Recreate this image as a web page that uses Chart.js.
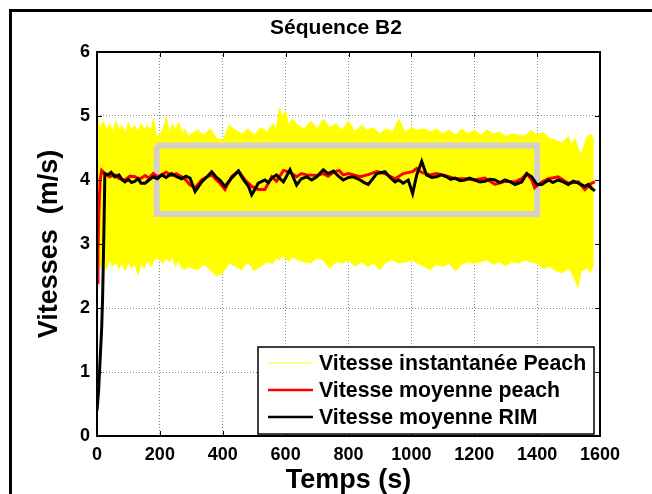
<!DOCTYPE html>
<html>
<head>
<meta charset="utf-8">
<script src="https://cdn.jsdelivr.net/npm/chart.js@4/dist/chart.umd.min.js"></script>
<style>
  html, body { margin: 0; padding: 0; background: #fff; }
  #wrap { position: relative; width: 652px; height: 494px; }
</style>
</head>
<body>
<div id="wrap"><canvas id="myChart" width="652" height="494"></canvas></div>
<script>
// titres et légende
const chartTitle = 'Séquence B2';
const xTitle = 'Temps (s)';
const yTitle = 'Vitesses  (m/s)';
const legendLabels = ['Vitesse instantanée Peach', 'Vitesse moyenne peach', 'Vitesse moyenne RIM'];

// axes
const xTicks = [0, 200, 400, 600, 800, 1000, 1200, 1400, 1600];
const yTicks = [0, 1, 2, 3, 4, 5, 6];

// vitesse instantanée Peach : enveloppe haute / basse du signal
const instT = [0, 2, 10, 20, 30, 40, 50, 60, 70, 80, 90, 100, 110, 120, 130, 140, 150, 160, 170, 180, 190, 200, 210, 220, 230, 240, 250, 260, 270, 280, 290, 300,
  320, 340, 360, 380, 400, 420, 440, 460, 480, 500, 520, 540, 560, 570, 580, 590, 600, 610, 620, 640, 660, 680, 700, 720, 740, 760, 780,
  800, 820, 840, 860, 880, 900, 920, 940, 960, 980, 1000, 1020, 1040, 1060, 1080, 1100, 1120, 1140, 1160, 1180,
  1200, 1220, 1240, 1260, 1280, 1300, 1320, 1340, 1360, 1380, 1400, 1420, 1440, 1460, 1480, 1500, 1510, 1520, 1530, 1540, 1560, 1570, 1580];
const instHaut = [4.95, 4.98, 4.80, 4.92, 4.78, 4.88, 4.75, 4.92, 4.80, 4.85, 4.72, 4.90, 4.78, 4.85, 4.75, 4.88, 4.80, 4.85, 4.78, 4.95, 4.68, 4.72, 4.80, 4.98, 4.75, 4.88, 4.78, 4.90, 4.72, 4.80, 4.68, 4.72,
  4.78, 4.70, 4.80, 4.65, 4.62, 4.85, 4.78, 4.72, 4.80, 4.70, 4.82, 4.75, 4.88, 4.80, 5.12, 5.00, 5.08, 4.85, 4.95, 4.85, 4.80, 4.92, 4.80, 4.95, 4.82, 4.88, 4.78,
  4.92, 4.75, 4.85, 4.78, 4.82, 4.72, 4.80, 4.75, 4.95, 4.75, 4.82, 4.78, 4.80, 4.75, 4.80, 4.72, 4.78, 4.70, 4.80, 4.72, 4.78,
  4.70, 4.78, 4.72, 4.75, 4.68, 4.72, 4.70, 4.68, 4.78, 4.70, 4.75, 4.65, 4.62, 4.58, 4.68, 4.55, 4.65, 4.50, 4.40, 4.68, 4.72, 4.62, 4.78];
const instBas = [0.10, 2.70, 2.62, 2.70, 2.60, 2.75, 2.65, 2.72, 2.62, 2.70, 2.58, 2.72, 2.62, 2.70, 2.52, 2.68, 2.62, 2.75, 2.65, 2.72, 2.78, 2.75, 2.70, 2.78, 2.72, 2.80, 2.65, 2.75, 2.62, 2.60, 2.66, 2.62,
  2.60, 2.68, 2.60, 2.50, 2.55, 2.70, 2.65, 2.60, 2.72, 2.58, 2.65, 2.72, 2.70, 2.78, 2.75, 2.82, 2.78, 2.72, 2.80, 2.75, 2.72, 2.70, 2.78, 2.75, 2.62, 2.72, 2.70,
  2.75, 2.65, 2.72, 2.65, 2.70, 2.60, 2.72, 2.75, 2.70, 2.72, 2.75, 2.70, 2.65, 2.60, 2.68, 2.65, 2.70, 2.58, 2.68, 2.72,
  2.70, 2.72, 2.75, 2.68, 2.72, 2.66, 2.72, 2.70, 2.75, 2.72, 2.70, 2.62, 2.65, 2.58, 2.55, 2.62, 2.55, 2.45, 2.32, 2.58, 2.62, 2.55, 2.70];

// vitesse moyenne peach
const peachT = [0, 3, 6, 10, 15, 25, 40, 57, 70, 89, 105, 121, 135, 153, 165, 179, 192, 206, 220, 237, 252, 269, 283, 296, 312, 333, 350, 365, 380, 391, 407, 428, 450, 471,
  492, 513, 534, 556, 571, 593, 614, 635, 650, 667, 699, 720, 735, 752, 770, 783, 800, 837, 860, 890, 916, 948, 974, 1004, 1017, 1033,
  1060, 1080, 1107, 1139, 1170, 1202, 1234, 1266, 1298, 1330, 1351, 1367, 1383, 1392, 1415, 1436, 1467, 1499, 1531, 1552, 1573, 1584];
const peachV = [2.40, 2.90, 3.50, 4.00, 4.15, 4.10, 4.05, 4.08, 4.02, 4.00, 4.06, 4.05, 4.01, 4.07, 4.03, 4.10, 4.05, 4.08, 4.12, 4.07, 4.10, 4.05, 4.00, 3.92, 3.88, 4.00, 4.05, 4.08, 4.00, 3.95, 3.85, 4.05, 4.14, 4.00,
  3.90, 3.85, 3.85, 4.05, 3.98, 4.15, 4.12, 4.05, 4.10, 4.08, 4.07, 4.10, 4.06, 4.12, 4.15, 4.08, 4.10, 4.05, 4.08, 4.13, 4.10, 4.02, 4.10, 4.13, 4.18, 4.12,
  4.08, 4.10, 4.07, 4.02, 4.02, 4.00, 4.03, 3.93, 3.98, 3.97, 4.02, 4.10, 4.00, 3.88, 3.97, 4.02, 4.05, 3.95, 3.97, 3.85, 3.95, 3.97];

// vitesse moyenne RIM
const rimT = [0, 5, 10, 15, 18, 22, 25, 35, 45, 57, 70, 80, 89, 100, 110, 121, 130, 140, 153, 165, 179, 192, 206, 220, 237, 250, 269, 283, 296, 312, 333, 350, 365, 380, 391, 407, 428, 450, 460, 471,
  482, 492, 503, 513, 534, 545, 556, 571, 582, 593, 614, 635, 650, 667, 683, 699, 720, 735, 752, 768, 783, 800, 815, 837, 850, 863, 890, 916, 930, 948, 960, 974, 990, 1004, 1017, 1033,
  1048, 1065, 1080, 1095, 1112, 1125, 1139, 1155, 1170, 1185, 1202, 1218, 1234, 1250, 1266, 1282, 1298, 1315, 1330, 1351, 1367, 1383, 1399, 1415, 1436, 1450, 1467, 1483, 1499, 1515, 1531, 1552, 1563, 1573, 1584];
const rimV = [0.40, 0.70, 1.20, 1.70, 2.20, 3.20, 4.10, 4.08, 4.12, 4.05, 4.08, 4.00, 3.97, 4.01, 3.96, 3.98, 4.02, 3.95, 3.95, 4.00, 4.05, 4.02, 4.08, 4.04, 4.10, 4.06, 4.02, 4.06, 4.03, 3.82, 3.97, 4.05, 4.13, 4.04, 4.00, 3.90, 4.03, 4.14, 4.05, 3.97,
  3.90, 3.77, 3.86, 3.95, 4.00, 3.96, 4.03, 4.08, 4.02, 3.97, 4.16, 3.92, 4.02, 4.05, 4.00, 4.05, 4.16, 4.10, 4.14, 4.06, 4.00, 4.04, 4.05, 4.00, 3.96, 3.93, 4.10, 4.13, 4.05, 3.97, 4.00, 3.95, 4.00, 3.79, 4.08, 4.29,
  4.08, 4.04, 4.05, 4.08, 4.05, 4.01, 4.03, 3.99, 4.00, 4.03, 4.00, 3.97, 3.98, 4.01, 4.00, 3.96, 4.00, 3.97, 3.93, 3.97, 4.10, 4.05, 3.93, 3.93, 4.00, 3.96, 4.00, 3.97, 3.93, 3.98, 3.95, 3.90, 3.93, 3.87, 3.83];

// cadre gris (zone stationnaire)
const cadreT = [190, 1400, 1400, 190, 190];
const cadreV = [4.54, 4.54, 3.47, 3.47, 4.54];

const FONT = "'Liberation Sans', Arial, sans-serif";

function pts(xs, ys) {
  return xs.map(function(x, i) { return { x: x, y: ys[i] }; });
}

// dessin du cadre, des titres et de la légende
const decorPlugin = {
  id: 'decor',
  afterDraw: function(chart) {
    const ctx = chart.ctx;
    const a = chart.chartArea;
    const xs = chart.scales.x, ys = chart.scales.y;
    ctx.save();

    // cadre extérieur de la figure
    ctx.strokeStyle = '#000';
    ctx.lineWidth = 3;
    ctx.beginPath();
    ctx.moveTo(10.5, 494);
    ctx.lineTo(10.5, 10.5);
    ctx.lineTo(652, 10.5);
    ctx.stroke();

    // boîte des axes + petites graduations intérieures
    ctx.lineWidth = 2;
    ctx.strokeRect(a.left, a.top, a.right - a.left, a.bottom - a.top);
    ctx.lineWidth = 1;
    ctx.beginPath();
    xTicks.forEach(function(v) {
      const px = Math.round(xs.getPixelForValue(v)) + 0.5;
      ctx.moveTo(px, a.bottom); ctx.lineTo(px, a.bottom - 5);
      ctx.moveTo(px, a.top); ctx.lineTo(px, a.top + 5);
    });
    yTicks.forEach(function(v) {
      const py = Math.round(ys.getPixelForValue(v)) + 0.5;
      ctx.moveTo(a.left, py); ctx.lineTo(a.left + 5, py);
      ctx.moveTo(a.right, py); ctx.lineTo(a.right - 5, py);
    });
    ctx.stroke();

    // titres
    ctx.fillStyle = '#000';
    ctx.textAlign = 'center';
    ctx.textBaseline = 'alphabetic';
    ctx.font = 'bold 21px ' + FONT;
    ctx.fillText(chartTitle, 336, 34);
    ctx.font = 'bold 27px ' + FONT;
    ctx.fillText(xTitle, (a.left + a.right) / 2, 488);
    ctx.save();
    ctx.translate(57, (a.top + a.bottom) / 2);
    ctx.rotate(-Math.PI / 2);
    ctx.fillText(yTitle, 0, 0);
    ctx.restore();

    // légende
    const lx = 258, ly = 347, lw = 336, lh = 87;
    ctx.fillStyle = '#fff';
    ctx.fillRect(lx, ly, lw, lh);
    ctx.strokeStyle = '#000';
    ctx.lineWidth = 1.5;
    ctx.strokeRect(lx, ly, lw, lh);
    const colors = ['#ffff66', '#ff0000', '#000000'];
    const widths = [1.5, 2.5, 2.5];
    const rowsY = [363, 390, 417];
    ctx.font = 'bold 21.3px ' + FONT;
    ctx.textAlign = 'left';
    ctx.textBaseline = 'middle';
    legendLabels.forEach(function(lbl, i) {
      ctx.strokeStyle = colors[i];
      ctx.lineWidth = widths[i];
      ctx.beginPath();
      ctx.moveTo(268, rowsY[i]);
      ctx.lineTo(313, rowsY[i]);
      ctx.stroke();
      ctx.fillStyle = '#000';
      ctx.fillText(lbl, 319, rowsY[i] + 1);
    });
    ctx.restore();
  }
};

const ctx = document.getElementById('myChart').getContext('2d');
new Chart(ctx, {
  type: 'line',
  data: {
    datasets: [
      { label: legendLabels[2], data: pts(rimT, rimV), borderColor: '#000', borderWidth: 3, pointRadius: 0, tension: 0, order: 0 },
      { label: legendLabels[1], data: pts(peachT, peachV), borderColor: '#ff0000', borderWidth: 3, pointRadius: 0, tension: 0, order: 1 },
      { label: 'cadre', data: pts(cadreT, cadreV), borderColor: '#d4d0c8', borderWidth: 6, pointRadius: 0, tension: 0, order: 2 },
      { label: legendLabels[0], data: pts(instT, instHaut), borderColor: '#ffff00', backgroundColor: '#ffff00', borderWidth: 1,
        pointRadius: 0, tension: 0, fill: '+1', order: 3 },
      { label: 'bas', data: pts(instT, instBas), borderColor: '#ffff00', borderWidth: 1, pointRadius: 0, tension: 0, fill: false, order: 4 }
    ]
  },
  options: {
    responsive: false,
    animation: false,
    devicePixelRatio: 1,
    layout: { padding: { left: 0, top: 52, right: 52, bottom: 0 } },
    plugins: {
      legend: { display: false },
      tooltip: { enabled: false },
      title: { display: false }
    },
    scales: {
      x: {
        type: 'linear',
        min: 0,
        max: 1600,
        afterBuildTicks: function(scale) { scale.ticks = xTicks.map(function(v) { return { value: v }; }); },
        afterFit: function(scale) { scale.height = 58; },
        grid: { color: '#8a8a8a', lineWidth: 1, drawTicks: false },
        border: { display: false, dash: [1, 2] },
        ticks: { color: '#000', padding: 8, maxRotation: 0, font: { family: FONT, size: 18, weight: 'bold' },
          callback: function(v) { return String(v); } }
      },
      y: {
        type: 'linear',
        min: 0,
        max: 6,
        afterBuildTicks: function(scale) { scale.ticks = yTicks.map(function(v) { return { value: v }; }); },
        afterFit: function(scale) { scale.width = 97; },
        grid: { color: '#8a8a8a', lineWidth: 1, drawTicks: false },
        border: { display: false, dash: [1, 2] },
        ticks: { color: '#000', padding: 7, font: { family: FONT, size: 18, weight: 'bold' },
          callback: function(v) { return String(v); } }
      }
    }
  },
  plugins: [decorPlugin]
});
</script>
</body>
</html>
